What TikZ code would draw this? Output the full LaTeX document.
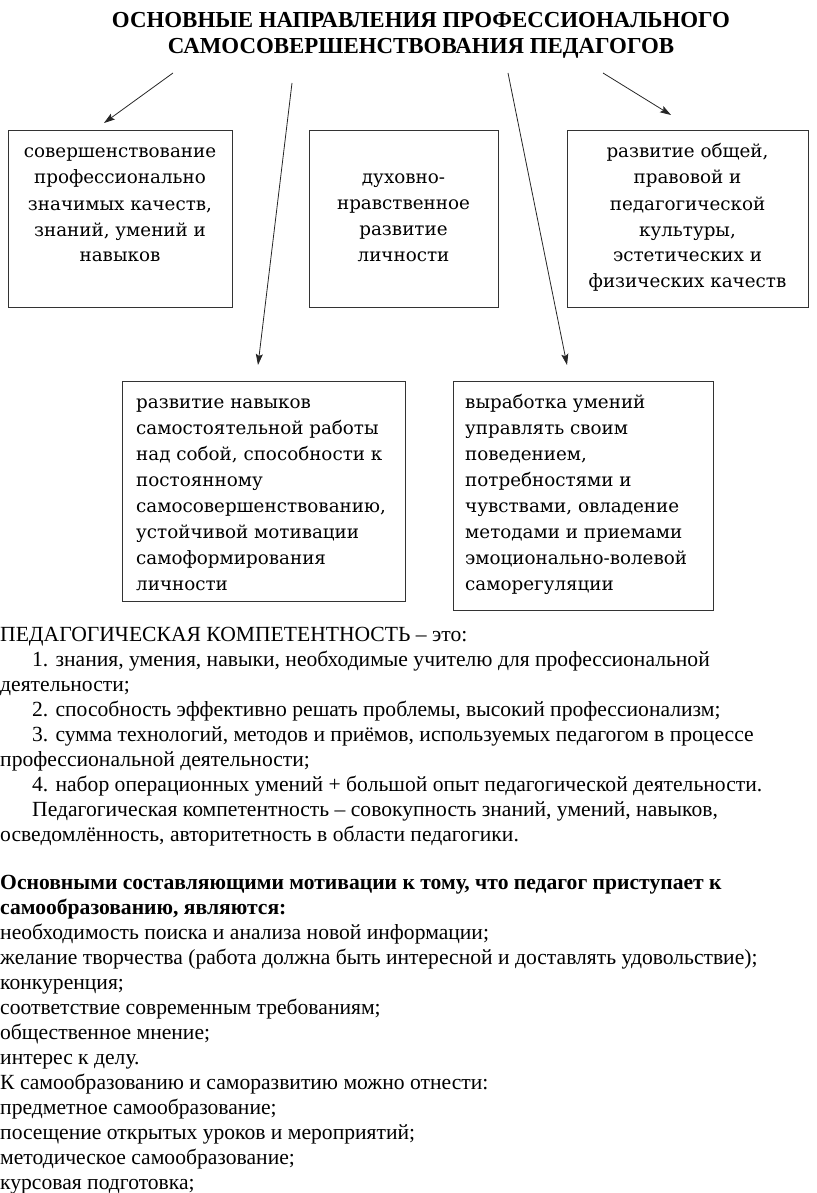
\documentclass[tikz,border=0pt]{standalone}
\usepackage{fontspec}
\setmainfont{Liberation Serif}
\newfontfamily\boxfont{DejaVu Serif}
\usetikzlibrary{arrows.meta}
\tikzset{
  frame/.style={draw=black!80, line width=1pt, rectangle, inner sep=0pt},
  arr/.style={-{Stealth[length=11pt,width=7pt,inset=2pt]}, line width=0.8pt, draw=black!85},
  boxtxt/.style={anchor=base, inner sep=0pt, font=\boxfont\fontsize{18.3}{26}\selectfont},
  bodytxt/.style={anchor=base west, inner sep=0pt, font=\fontsize{21.6}{25}\selectfont},
}
\begin{document}
\begin{tikzpicture}[x=1pt,y=-1pt]
\useasboundingbox (0,0) rectangle (816,1193);
% title
\node[anchor=base, inner sep=0pt, font=\bfseries\fontsize{22.9}{26}\selectfont] (title) at (421,28)
  {\begin{tabular}[t]{@{}c@{}}ОСНОВНЫЕ НАПРАВЛЕНИЯ ПРОФЕССИОНАЛЬНОГО\\САМОСОВЕРШЕНСТВОВАНИЯ ПЕДАГОГОВ\end{tabular}};
% boxes
\node[frame, minimum width=224pt, minimum height=176pt] (b1) at (120,219) {};
\node[frame, minimum width=189pt, minimum height=176pt] (b2) at (403.5,219) {};
\node[frame, minimum width=241pt, minimum height=176pt] (b3) at (687.5,219) {};
\node[frame, minimum width=283pt, minimum height=220pt] (b4) at (263.5,491) {};
\node[frame, minimum width=260pt, minimum height=229pt] (b5) at (583,495.5) {};
% box texts
\node[boxtxt] (t1) at (120,158) {\begin{tabular}[t]{@{}c@{}}совершенствование\\профессионально\\значимых качеств,\\знаний, умений и\\навыков\end{tabular}};
\node[boxtxt] (t2) at (403.5,183) {\begin{tabular}[t]{@{}c@{}}духовно-\\нравственное\\развитие\\личности\end{tabular}};
\node[boxtxt] (t3) at (687.5,158) {\begin{tabular}[t]{@{}c@{}}развитие общей,\\правовой и\\педагогической\\культуры,\\эстетических и\\физических качеств\end{tabular}};
\node[boxtxt, anchor=base west] (t4) at (136,408) {\begin{tabular}[t]{@{}l@{}}развитие навыков\\самостоятельной работы\\над собой, способности к\\постоянному\\самосовершенствованию,\\устойчивой мотивации\\самоформирования\\личности\end{tabular}};
\node[boxtxt, anchor=base west] (t5) at (465,408) {\begin{tabular}[t]{@{}l@{}}выработка умений\\управлять своим\\поведением,\\потребностями и\\чувствами, овладение\\методами и приемами\\эмоционально-волевой\\саморегуляции\end{tabular}};
% arrows
\coordinate (s1) at (173,73);  \coordinate (e1) at (104,123);
\coordinate (s2) at (292,83);  \coordinate (e2) at (258,365);
\coordinate (s3) at (508,73);  \coordinate (e3) at (567,365);
\coordinate (s4) at (603,73);  \coordinate (e4) at (671,115);
\draw[arr] (s1) -- (e1);
\draw[arr] (s2) -- (e2);
\draw[arr] (s3) -- (e3);
\draw[arr] (s4) -- (e4);
% body text
\node[bodytxt] (p1) at (0,641) {\begin{tabular}[t]{@{}l@{}}ПЕДАГОГИЧЕСКАЯ КОМПЕТЕНТНОСТЬ – это:\\
\hspace*{32pt}1. знания, умения, навыки, необходимые учителю для профессиональной\\
деятельности;\\
\hspace*{32pt}2. способность эффективно решать проблемы, высокий профессионализм;\\
\hspace*{32pt}3. сумма технологий, методов и приёмов, используемых педагогом в процессе\\
профессиональной деятельности;\\
\hspace*{32pt}4. набор операционных умений + большой опыт педагогической деятельности.\\
\hspace*{32pt}Педагогическая компетентность – совокупность знаний, умений, навыков,\\
осведомлённость, авторитетность в области педагогики.\end{tabular}};
\node[bodytxt] (p2) at (0,889) {\begin{tabular}[t]{@{}l@{}}\textbf{Основными составляющими мотивации к тому, что педагог приступает к}\\
\textbf{самообразованию, являются:}\\
необходимость поиска и анализа новой информации;\\
желание творчества (работа должна быть интересной и доставлять удовольствие);\\
конкуренция;\\
соответствие современным требованиям;\\
общественное мнение;\\
интерес к делу.\\
К самообразованию и саморазвитию можно отнести:\\
предметное самообразование;\\
посещение открытых уроков и мероприятий;\\
методическое самообразование;\\
курсовая подготовка;\end{tabular}};
\end{tikzpicture}
\end{document}
